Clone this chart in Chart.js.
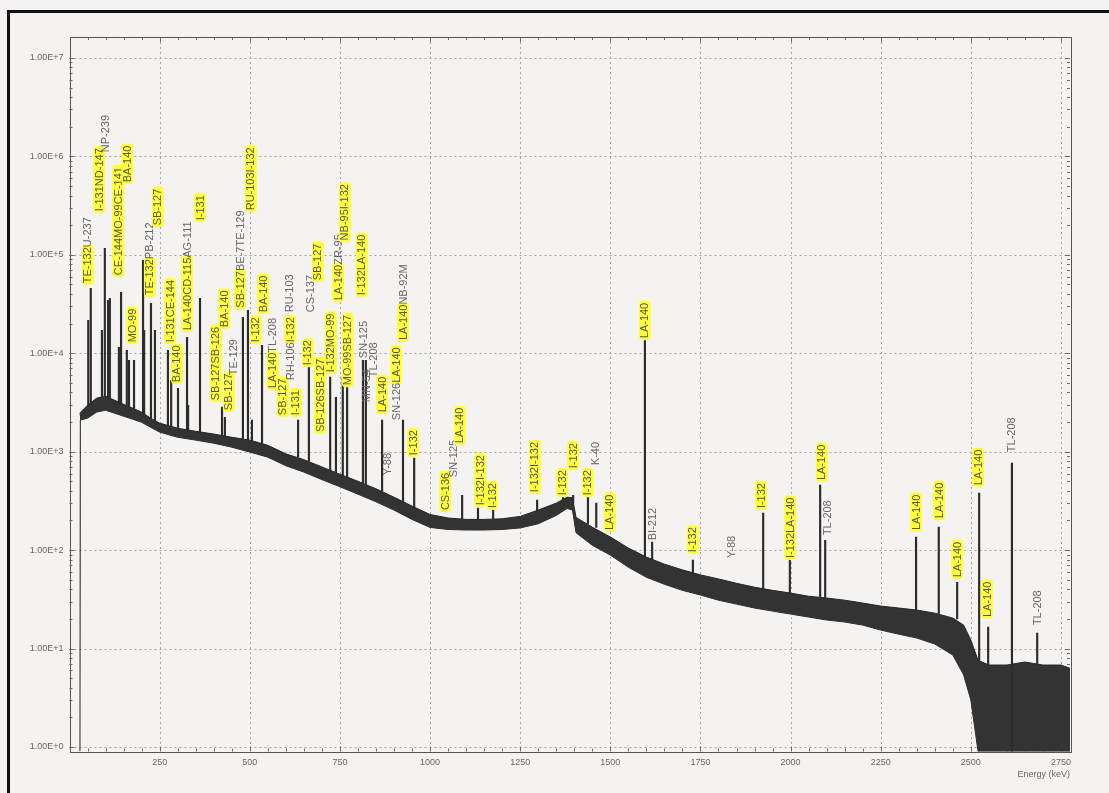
<!DOCTYPE html>
<html>
<head>
<meta charset="utf-8">
<script src="https://cdn.jsdelivr.net/npm/chart.js@4.4.1/dist/chart.umd.min.js"></script>
<style>
  html, body { margin: 0; padding: 0; background: #f5f3f2; }
  #wrap { position: relative; width: 1109px; height: 793px; overflow: hidden; }
  #frame { position: absolute; left: 7px; top: 10px; width: 1200px; height: 900px;
           border-top: 3px solid #111; border-left: 3px solid #111; pointer-events: none; }
  canvas { position: absolute; left: 0; top: 0; }
</style>
</head>
<body>
<div id="wrap">
  <canvas id="spectrum" width="1109" height="793"></canvas>
  <div id="frame"></div>
</div>
<script>
// --- spectrum data (energy in keV, counts) ---

// continuum: upper and lower edge of the noisy band
const contEnergy = [29, 30, 50, 75, 100, 125, 150, 175, 200, 225,
  250, 300, 350, 400, 450, 500, 550, 600, 650, 700,
  750, 800, 850, 900, 950, 1000, 1050, 1100, 1150, 1200,
  1250, 1300, 1350, 1380, 1395, 1405, 1450, 1500, 1550, 1600,
  1650, 1700, 1750, 1800, 1850, 1900, 1950, 2000, 2050, 2100,
  2150, 2200, 2250, 2300, 2350, 2400, 2450, 2480, 2500, 2520,
  2550, 2600, 2650, 2700, 2750, 2775];
const contUpper = [2350, 2500, 2960, 3490, 3660, 3330, 3030, 2770, 2520, 2190,
  1950, 1730, 1610, 1510, 1400, 1310, 1160, 950, 830, 700,
  590, 500, 420, 345, 280, 230, 212, 205, 205, 208,
  220, 255, 300, 345, 340, 215, 171, 136, 105, 85,
  72, 63, 56, 51, 46, 42, 39, 36.6, 34, 32.6,
  31, 29, 27, 25.8, 24.6, 22.9, 20.4, 17.3, 12.2, 7.6,
  6.8, 6.8, 7.3, 6.8, 6.8, 6.3];
const contLower = [0.9, 2090, 2190, 2520, 2640, 2460, 2290, 2140, 1990, 1770,
  1580, 1400, 1310, 1220, 1110, 990, 880, 720, 620, 520,
  440, 370, 310, 255, 205, 170, 162, 160, 160, 162,
  168, 185, 225, 265, 255, 150, 112, 89, 67, 53,
  45, 39, 35, 31, 28.3, 25.8, 24, 22.4, 20.9, 19.5,
  18.6, 17.3, 15.4, 14, 12.8, 11.1, 8.6, 5.4, 3.0, 0.9,
  0.9, 0.9, 0.9, 0.9, 0.9, 0.9];

// photopeaks
const peakEnergy = [52, 59, 90, 98, 107, 112, 137, 143, 159, 165,
  179, 204, 207, 226, 237, 273, 282, 301, 326, 329,
  362, 423, 431, 481, 495, 506, 534, 634, 664, 723,
  739, 758, 770, 814, 822, 867, 925, 956, 1089, 1133,
  1175, 1297, 1369, 1397, 1438, 1461, 1596, 1616, 1729, 1924,
  1998, 2082, 2096, 2348, 2411, 2462, 2523, 2548, 2614, 2684];
const peakTop = [21600, 45700, 17100, 116000, 34500, 36100, 11500, 41600, 10700, 8490,
  8490, 88000, 17100, 32200, 17100, 10700, 5300, 4410, 14500, 2960,
  36100, 2830, 2230, 23200, 27300, 2090, 12050, 2090, 7210, 5710,
  3570, 5710, 7210, 8490, 8490, 2090, 2090, 860, 361, 267,
  255, 322, 345, 361, 361, 300, 13550, 121, 79, 238,
  89, 457, 126, 136, 171, 47, 379, 16.5, 764, 14.4];
const peakBase = [2900, 3000, 3600, 3650, 3500, 3400, 3100, 3050, 2950, 2850,
  2750, 2450, 2400, 2190, 2050, 1850, 1800, 1730, 1670, 1660,
  1590, 1450, 1430, 1350, 1320, 1290, 1210, 880, 800, 650,
  610, 570, 550, 475, 460, 395, 310, 270, 205, 205,
  206, 252, 330, 300, 185, 170, 85, 80, 58, 40,
  36.6, 33, 32.6, 24.6, 22.5, 20, 7.5, 6.8, 0.9, 6.8];

// nuclide labels ("|" joins labels printed one after another, flags: 1 = marked)
const labelText = ['TE-132|U-237', 'I-131|ND-147', 'NP-239', 'CE-144|MO-99|CE-141', 'BA-140',
  'MO-99', 'TE-132|PB-212', 'SB-127', 'I-131|CE-144', 'BA-140',
  'LA-140|CD-115|AG-111', 'I-131', 'SB-127|SB-126', 'BA-140', 'SB-127',
  'TE-129', 'SB-127|BE-7|TE-129', 'RU-103|I-132', 'I-132', 'BA-140',
  'LA-140|TL-208', 'SB-127', 'RH-106|I-132', 'I-131', 'RU-103',
  'I-132', 'CS-137', 'SB-127', 'SB-126|SB-127', 'I-132|MO-99',
  'LA-140|ZR-95', 'NB-95|I-132', 'MO-99|SB-127', 'I-132|LA-140', 'SN-125',
  'MN-54', 'TL-208', 'LA-140', 'Y-88', 'SN-126|LA-140',
  'LA-140|NB-92M', 'I-132', 'CS-136', 'SN-125', 'LA-140',
  'I-132|I-132', 'I-132', 'I-132|I-132', 'I-132', 'I-132',
  'I-132', 'K-40', 'LA-140', 'LA-140', 'BI-212',
  'I-132', 'Y-88', 'I-132', 'I-132|LA-140', 'LA-140',
  'TL-208', 'LA-140', 'LA-140', 'LA-140', 'LA-140',
  'LA-140', 'TL-208', 'TL-208'];
const labelFlags = ['10', '11', '0', '111', '1',
  '1', '10', '1', '11', '1',
  '110', '1', '11', '1', '1',
  '0', '100', '11', '1', '1',
  '10', '1', '01', '1', '0',
  '1', '0', '1', '11', '11',
  '10', '11', '11', '11', '0',
  '0', '0', '1', '0', '01',
  '10', '1', '1', '0', '1',
  '11', '1', '11', '1', '1',
  '1', '0', '1', '1', '0',
  '1', '0', '1', '11', '1',
  '0', '1', '1', '1', '1',
  '1', '0', '0'];
const labelEnergy = [51, 82, 101, 135, 160,
  174, 223, 245, 279, 298,
  326, 362, 406, 429, 442,
  454, 473, 503, 517, 537,
  564, 592, 612, 628, 609,
  661, 669, 689, 695, 725,
  745, 764, 772, 811, 814,
  825, 842, 867, 883, 906,
  925, 953, 1042, 1064, 1083,
  1139, 1172, 1291, 1366, 1397,
  1438, 1458, 1499, 1596, 1616,
  1729, 1835, 1918, 1999, 2087,
  2101, 2348, 2412, 2462, 2520,
  2545, 2614, 2684];
const labelCount = [51400, 277000, 1100000, 61900, 545000,
  12900, 38800, 199000, 12900, 5080,
  17100, 224000, 3330, 18400, 2640,
  5980, 29000, 283000, 12900, 26100,
  4410, 2350, 5320, 2350, 26100,
  7550, 26100, 55100, 1580, 6410,
  34500, 140000, 4730, 38800, 8900,
  3180, 5710, 2520, 577, 2090,
  13600, 921, 255, 551, 1220,
  286, 267, 388, 361, 680,
  361, 729, 160, 14200, 126,
  95, 83, 267, 83, 514,
  142, 160, 211, 53, 457,
  20.9, 988, 17.3];

// axis ticks
const xTickValues = [250, 500, 750, 1000, 1250, 1500, 1750, 2000, 2250, 2500, 2750];
const yTickValues = [1, 10, 100, 1000, 10000, 100000, 1000000, 10000000];

const FONT = '"Liberation Sans", Arial, sans-serif';

// dotted grid, frame and small tick marks
const gridPlugin = {
    id: 'spectrumGrid',
    beforeDatasetsDraw(chart) {
        const { ctx, chartArea: a, scales: { x, y } } = chart;
        ctx.save();
        ctx.strokeStyle = '#a4a4a4';
        ctx.lineWidth = 1;
        ctx.setLineDash([2, 3]);
        y.ticks.forEach(t => {
            const py = Math.round(y.getPixelForValue(t.value)) + 0.5;
            ctx.beginPath(); ctx.moveTo(a.left, py); ctx.lineTo(a.right, py); ctx.stroke();
        });
        x.ticks.forEach(t => {
            const px = Math.round(x.getPixelForValue(t.value)) + 0.5;
            ctx.beginPath(); ctx.moveTo(px, a.top); ctx.lineTo(px, a.bottom); ctx.stroke();
        });
        ctx.setLineDash([]);

        // minor ticks
        ctx.strokeStyle = '#6a6a6a';
        ctx.beginPath();
        for (let d = 0; d <= 7; d++) {
            for (let m = 1; m <= 9; m++) {
                const v = m * Math.pow(10, d);
                if (v < y.min || v > y.max) continue;
                const py = Math.round(y.getPixelForValue(v)) + 0.5;
                const len = m === 1 ? 5 : 3;
                ctx.moveTo(a.left, py); ctx.lineTo(a.left + len, py);
                ctx.moveTo(a.right, py); ctx.lineTo(a.right - len, py);
            }
        }
        for (let e = 50; e < x.max; e += 50) {
            const px = Math.round(x.getPixelForValue(e)) + 0.5;
            const len = e % 250 === 0 ? 5 : 3;
            ctx.moveTo(px, a.bottom); ctx.lineTo(px, a.bottom - len);
            ctx.moveTo(px, a.top); ctx.lineTo(px, a.top + len);
        }
        ctx.stroke();

        ctx.strokeStyle = '#555';
        ctx.strokeRect(Math.round(a.left) + 0.5, Math.round(a.top) + 0.5,
            Math.round(a.right - a.left), Math.round(a.bottom - a.top));
        ctx.restore();
    }
};

// rotated nuclide names, some on a yellow marker
const labelPlugin = {
    id: 'nuclideLabels',
    afterDatasetsDraw(chart) {
        const { ctx, scales: { x, y } } = chart;
        ctx.save();
        ctx.font = '11px ' + FONT;
        ctx.textBaseline = 'middle';
        ctx.textAlign = 'left';
        labelText.forEach((txt, i) => {
            const px = x.getPixelForValue(labelEnergy[i]);
            const py = y.getPixelForValue(labelCount[i]);
            const parts = txt.split('|');
            ctx.save();
            ctx.translate(px, py);
            ctx.rotate(-Math.PI / 2);
            let cur = 0;
            parts.forEach((p, k) => {
                const w = ctx.measureText(p).width;
                if (labelFlags[i][k] === '1') {
                    ctx.fillStyle = '#ffff3c';
                    ctx.beginPath();
                    ctx.roundRect(cur - 2, -6, w + 4, 12, 4);
                    ctx.fill();
                }
                cur += w;
            });
            cur = 0;
            parts.forEach((p, k) => {
                ctx.fillStyle = labelFlags[i][k] === '1' ? '#555' : '#666';
                ctx.fillText(p, cur, 0.5);
                cur += ctx.measureText(p).width;
            });
            ctx.restore();
        });
        ctx.restore();
    }
};

const ctx = document.getElementById('spectrum').getContext('2d');
new Chart(ctx, {
    type: 'bar',
    data: {
        datasets: [
            {
                type: 'line',
                label: 'continuum upper',
                data: contEnergy.map((e, i) => ({ x: e, y: contUpper[i] })),
                borderColor: '#262626',
                borderWidth: 1,
                backgroundColor: '#333',
                pointRadius: 0,
                tension: 0,
                fill: '+1',
                order: 2
            },
            {
                type: 'line',
                label: 'continuum lower',
                data: contEnergy.map((e, i) => ({ x: e, y: contLower[i] })),
                borderColor: '#262626',
                borderWidth: 1,
                pointRadius: 0,
                tension: 0,
                fill: false,
                order: 2
            },
            {
                type: 'bar',
                label: 'peaks',
                data: peakEnergy.map((e, i) => ({ x: e, y: [peakBase[i], peakTop[i]] })),
                backgroundColor: '#2c2c2c',
                borderWidth: 0,
                barThickness: 1.5,
                grouped: false,
                order: 1
            }
        ]
    },
    options: {
        responsive: false,
        animation: false,
        events: [],
        layout: { padding: { left: 0, top: 37, right: 39, bottom: 0 } },
        plugins: { legend: { display: false }, tooltip: { enabled: false } },
        scales: {
            x: {
                type: 'linear',
                min: 0,
                max: 2775,
                offset: false,
                grid: { display: false, offset: false, drawTicks: false },
                border: { display: false },
                afterBuildTicks: s => { s.ticks = xTickValues.map(v => ({ value: v })); },
                afterFit: s => { s.height = 41.5; },
                ticks: {
                    autoSkip: false, maxRotation: 0, padding: 6, color: '#666',
                    font: { family: FONT, size: 9 },
                    callback: v => String(v)
                },
                title: {
                    display: true, text: 'Energy (keV)', align: 'end', color: '#666',
                    font: { family: FONT, size: 9 }, padding: { top: 0, bottom: 13 }
                }
            },
            y: {
                type: 'logarithmic',
                min: 0.9,
                max: 1.63e7,
                grid: { display: false, drawTicks: false },
                border: { display: false },
                afterBuildTicks: s => { s.ticks = yTickValues.map(v => ({ value: v })); },
                afterFit: s => { s.width = 69.5; },
                ticks: {
                    padding: 6, color: '#666',
                    font: { family: FONT, size: 9 },
                    callback: v => '1.00E+' + Math.round(Math.log10(v))
                }
            }
        }
    },
    plugins: [gridPlugin, labelPlugin]
});
</script>
</body>
</html>
